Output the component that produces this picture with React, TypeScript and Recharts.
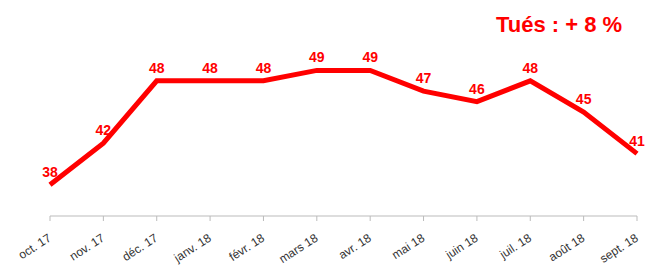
import React from 'react';
import { LineChart, Line, XAxis, YAxis, LabelList } from 'recharts';

const months = ['oct. 17', 'nov. 17', 'déc. 17', 'janv. 18', 'févr. 18', 'mars 18', 'avr. 18', 'mai 18', 'juin 18', 'juil. 18', 'août 18', 'sept. 18'];
const killed = [38, 42, 48, 48, 48, 49, 49, 47, 46, 48, 45, 41];

const data = months.map((m, i) => ({ month: m, value: killed[i] }));

const RED = '#ff0000';
const FONT = '"Liberation Sans", Arial, sans-serif';

const AngledTick = (props: any) => {
  const { x, y, payload } = props;
  return (
    <g transform={`translate(${x + 2},${y + 17})`}>
      <text
        textAnchor="end"
        transform="rotate(-33)"
        fontSize={12}
        fill="#333"
        fontFamily={FONT}
      >
        {payload.value}
      </text>
    </g>
  );
};

const App: React.FC = () => {
  return (
    <div style={{ position: 'absolute', top: 0, left: 0, width: 655, height: 266, background: '#fff' }}>
      <div
        style={{
          position: 'absolute',
          left: 496,
          top: 12,
          color: RED,
          fontFamily: FONT,
          fontWeight: 'bold',
          fontSize: 22,
          whiteSpace: 'nowrap',
        }}
      >
        Tués : + 8 %
      </div>
      <LineChart width={655} height={266} data={data} margin={{ top: 8, right: 18, bottom: 0, left: 50 }}>
        <XAxis
          dataKey="month"
          interval={0}
          height={50}
          stroke="#bbb"
          tickSize={5}
          tick={<AngledTick />}
        />
        <YAxis hide domain={[35, 55]} />
        <Line
          type="linear"
          dataKey="value"
          stroke={RED}
          strokeWidth={5}
          dot={false}
          isAnimationActive={false}
        >
          <LabelList
            dataKey="value"
            position="top"
            offset={8}
            fill={RED}
            fontSize={14}
            fontWeight="bold"
            fontFamily={FONT}
          />
        </Line>
      </LineChart>
    </div>
  );
};

export default App;
